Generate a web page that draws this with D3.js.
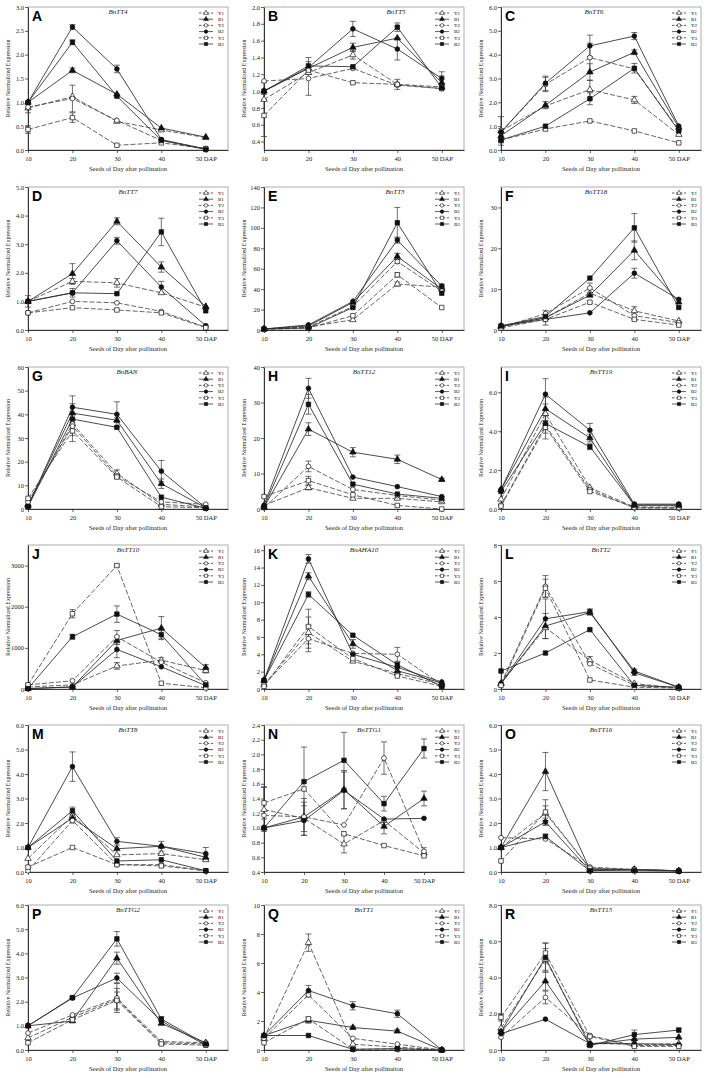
<!DOCTYPE html>
<html><head><meta charset="utf-8">
<script src="https://cdn.jsdelivr.net/npm/d3@7/dist/d3.min.js"></script>
<style>body{margin:0;background:#fff}</style></head>
<body>
<svg id="chart" width="708" height="1078"></svg>
<script>
// ---------- data ----------
const categories = [10, 20, 30, 40, 50];
const seriesNames = ["Y1", "B1", "Y2", "B2", "Y3", "B3"];
const panelLetters = ["A","B","C","D","E","F","G","H","I","J","K","L","M","N","O","P","Q","R"];
const geneNames = ["BnTT4","BnTT5","BnTT6","BnTT7","BnTT3","BnTT18","BnBAN","BnTT12","BnTT19",
                   "BnTT10","BnAHA10","BnTT2","BnTT8","BnTTG1","BnTT16","BnTTG2","BnTT1","BnTT15"];

// values: rows = Y1, B1, Y2, B2, Y3, B3 ; columns = 10..50 DAP
const valuesA = [[0.88,1.12,0.6,0.42,0.26],[1.0,1.67,1.17,0.46,0.27],[0.9,1.08,0.62,0.2,0.03],[1.0,2.58,1.7,0.22,0.02],[0.43,0.68,0.1,0.15,0.03],[1.0,2.26,1.13,0.2,0.01]];
const valuesB = [[0.9,1.22,1.43,1.08,1.05],[1.0,1.27,1.52,1.63,1.1],[1.12,1.15,1.27,1.07,1.03],[1.0,1.28,1.74,1.5,1.15],[0.71,1.25,1.1,1.08,1.03],[1.0,1.3,1.29,1.76,1.04]];
const valuesC = [[0.8,1.85,2.53,2.1,0.65],[0.6,1.88,3.27,4.1,0.95],[0.75,2.75,3.88,3.4,0.85],[0.75,2.8,4.37,4.78,1.0],[0.42,0.88,1.22,0.8,0.3],[0.42,1.0,2.15,3.43,0.8]];
const valuesD = [[1.0,1.7,1.65,1.3,0.8],[1.0,1.97,3.8,2.2,0.82],[0.6,1.0,0.95,0.65,0.1],[1.0,1.3,3.12,1.5,0.15],[0.6,0.78,0.7,0.6,0.08],[1.0,1.3,1.27,3.43,0.67]];
const valuesE = [[1,3,10,45,42],[1,4,27,72,40],[1,3,23,67,38],[1,5,28,88,43],[0.5,2,14,54,22],[1,2,22,105,36]];
const valuesF = [[1,3,9,4.7,2.2],[0.8,3,8.5,19.5,6.8],[0.6,4,10.3,3.5,1.8],[1,2.6,4.2,13.9,7.5],[0.5,2.6,6.8,2.6,1.2],[1,3.3,12.7,25,5.5]];
const valuesG = [[2,36,15,2,0.8],[1.5,40.5,37.5,10.7,0.5],[3,35,14,3,2],[1,43,40,16,0.5],[4.5,33,13.5,1,0.5],[1,38,34.5,5,0.3]];
const valuesH = [[1,6,3,3,2],[0.5,22.5,16,14,8.3],[0.3,12,5.5,3.8,2.5],[1,34,9,6.3,3.5],[3.5,8,4,1,0],[0.5,29.5,7,4.2,3]];
const valuesI = [[0.5,4.9,1.1,0.1,0.05],[1.0,5.15,3.65,0.2,0.2],[0.2,4.3,1.0,0.05,0.05],[1.0,5.9,4.05,0.25,0.25],[0.15,4.2,0.9,0.1,0.1],[0.9,4.4,3.2,0.2,0.2]];
const valuesJ = [[50,100,560,700,450],[10,50,1180,1480,520],[100,200,1270,650,150],[10,50,960,540,80],[100,1830,3000,140,30],[10,1270,1820,1320,100]];
const valuesK = [[0.5,6.5,3.2,1.8,0.5],[1.0,13,5.2,2.1,0.7],[0.5,5.8,4.1,4.0,0.5],[1.0,15,4.0,2.5,0.8],[0.3,7.2,3.5,1.5,0.3],[1.0,10.9,6.2,2.8,0.3]];
const valuesL = [[0.3,3.4,1.6,0.3,0.05],[0.3,3.5,4.25,1.0,0.1],[0.3,5.7,1.4,0.2,0.05],[0.3,3.9,4.3,0.9,0.1],[0.2,5.6,0.5,0.1,0.05],[1.0,2.0,3.3,0.2,0.1]];
const valuesM = [[0.55,2.3,0.7,0.75,0.5],[1.0,2.2,0.95,1.05,0.6],[0.05,2.1,0.3,0.3,0.05],[1.0,4.3,1.25,1.05,0.75],[0.2,1.0,0.3,0.25,0.05],[1.0,2.5,0.45,0.5,0.05]];
const valuesN = [[1.25,1.13,0.78,1.1,0.66],[1.0,1.15,1.52,1.02,1.4],[1.17,1.15,1.04,1.95,0.68],[1.0,1.1,1.51,1.12,1.13],[1.34,1.53,0.92,0.76,0.62],[1.0,1.63,1.92,1.33,2.08]];
const valuesO = [[1.0,2.4,0.15,0.1,0.05],[1.0,4.1,0.1,0.1,0.05],[1.4,1.35,0.2,0.1,0.05],[1.0,2.05,0.05,0.1,0.05],[0.45,2.45,0.15,0.1,0.05],[1.0,1.45,0.05,0.05,0.03]];
const valuesP = [[0.5,1.35,2.1,0.3,0.25],[1.0,1.2,3.8,1.1,0.3],[0.7,1.45,2.15,0.35,0.3],[1.0,2.15,2.98,1.2,0.2],[0.3,1.25,2.05,0.25,0.2],[1.0,2.17,4.6,1.28,0.25]];
const valuesQ = [[0.8,7.4,0.4,0.2,0],[1.0,2.05,1.55,1.3,0],[0.8,3.8,0.8,0.4,0],[1.0,4.1,3.05,2.5,0],[0.5,2.15,0.05,0.05,0],[1.0,1.0,0.05,0.1,0]];
const valuesR = [[1.2,5.0,0.4,0.3,0.35],[1.0,3.8,0.3,0.6,0.7],[0.7,2.9,0.8,0.25,0.25],[0.9,1.7,0.35,0.35,0.3],[1.8,5.35,0.75,0.2,0.2],[1.0,5.1,0.25,0.85,1.1]];

// error bars: [seriesIndex, pointIndex, +/- error]
const errA = [[3,1,0.05],[3,2,0.08],[2,1,0.28],[4,1,0.1],[4,0,0.08],[5,1,0.05],[1,1,0.05],[0,0,0.1]];
const errB = [[3,2,0.09],[2,1,0.2],[4,0,0.25],[5,3,0.05],[3,3,0.13],[1,2,0.05],[0,2,0.05],[5,1,0.1],[3,4,0.08],[1,4,0.08],[0,3,0.06],[1,0,0.1]];
const errC = [[3,2,0.45],[2,2,0.6],[1,2,0.35],[0,2,0.4],[3,3,0.15],[1,3,0.1],[5,3,0.2],[0,3,0.15],[3,1,0.3],[2,1,0.3],[1,1,0.15],[5,2,0.25],[0,0,0.6],[1,0,0.3]];
const errD = [[1,1,0.35],[1,2,0.12],[3,2,0.12],[5,3,0.48],[1,3,0.18],[3,3,0.2],[0,2,0.15],[0,1,0.1],[5,1,0.15],[0,0,0.2]];
const errE = [[5,3,15],[3,3,3],[1,3,3],[2,3,2],[4,3,2],[0,3,2],[3,4,2],[0,4,2]];
const errF = [[5,3,3.5],[1,3,2.3],[3,3,1.2],[0,3,1],[2,2,1.2],[0,1,1.8],[2,3,1]];
const errG = [[3,1,4.8],[1,1,4],[0,1,5],[4,1,4.5],[3,2,5.3],[1,2,1],[3,3,4.5],[1,3,2],[0,2,1.5],[2,2,1]];
const errH = [[3,1,2.8],[5,1,2.8],[1,1,1.8],[2,1,1.5],[4,1,1.2],[0,1,0.6],[1,2,1.3],[1,3,1.2],[1,4,0.4]];
const errI = [[3,1,0.8],[1,1,0.6],[0,1,0.5],[5,1,0.5],[4,1,0.6],[3,2,0.35],[1,2,0.2],[5,2,0.15]];
const errJ = [[1,3,280],[5,2,200],[2,2,150],[1,2,100],[3,2,200],[5,1,60],[4,1,100],[0,2,80],[4,2,30],[0,3,60],[5,3,100],[1,4,70],[0,4,60]];
const errK = [[3,1,0.5],[1,1,0.4],[5,1,0.3],[4,1,2],[0,1,1.8],[2,1,1.5],[2,3,0.8],[5,3,0.3],[1,2,0.5]];
const errL = [[2,1,0.6],[4,1,0.5],[3,1,1.1],[1,1,0.7],[3,2,0.15],[1,2,0.15],[0,2,0.2],[1,3,0.1],[3,3,0.15]];
const errM = [[3,1,0.6],[5,1,0.15],[1,1,0.2],[3,2,0.15],[1,3,0.2],[3,4,0.25],[1,4,0.1]];
const errN = [[5,1,0.47],[5,2,0.38],[1,2,0.26],[3,2,0.25],[0,2,0.12],[2,3,0.22],[5,3,0.1],[1,3,0.1],[5,4,0.13],[1,4,0.1],[0,0,0.3],[4,0,0.22],[2,1,0.2],[3,1,0.2],[1,1,0.25],[2,4,0.05]];
const errO = [[1,1,0.78],[4,1,0.5],[0,1,0.3],[3,1,0.15],[5,1,0.1]];
const errP = [[5,2,0.3],[1,2,0.25],[3,2,0.2],[0,2,0.45],[2,2,0.6],[4,2,0.35],[5,3,0.1],[5,1,0.05]];
const errQ = [[0,1,0.6],[3,1,0.35],[1,1,0.2],[2,1,0.15],[3,2,0.28],[3,3,0.25],[1,2,0.1],[1,3,0.1]];
const errR = [[4,1,0.55],[5,1,0.8],[2,1,0.35],[1,1,0.5],[0,1,0.6],[5,3,0.25],[5,4,0.1],[4,0,0.2]];

// y tick labels
const yTicksA = ["0.0","0.5","1.0","1.5","2.0","2.5","3.0"];
const yTicksB = ["0.4","0.6","0.8","1.0","1.2","1.4","1.6","1.8","2.0"];
const yTicksC = ["0.0","1.0","2.0","3.0","4.0","5.0","6.0"];
const yTicksD = ["0.0","1.0","2.0","3.0","4.0","5.0"];
const yTicksE = ["0","20","40","60","80","100","120","140"];
const yTicksF = ["0","10","20","30"];
const yTicksG = ["0","10","20","30","40","50","60"];
const yTicksH = ["0","10","20","30","40"];
const yTicksI = ["0.0","2.0","4.0","6.0"];
const yTicksJ = ["0","1000","2000","3000"];
const yTicksK = ["0","2","4","6","8","10","12","14","16"];
const yTicksL = ["0","2","4","6","8"];
const yTicksM = ["0.0","1.0","2.0","3.0","4.0","5.0","6.0"];
const yTicksN = ["0.4","0.6","0.8","1.0","1.2","1.4","1.6","1.8","2.0","2.2","2.4"];
const yTicksO = ["0.0","1.0","2.0","3.0","4.0","5.0","6.0"];
const yTicksP = ["0.0","1.0","2.0","3.0","4.0","5.0","6.0"];
const yTicksQ = ["0","2","4","6","8","10"];
const yTicksR = ["0.0","2.0","4.0","6.0","8.0"];

// y axis domains
const yDomains = [[0,3],[0.3,2.0],[0,6],[0,5],[0,140],[0,35],[0,60],[0,40],[0,7.3],
                  [0,3500],[0,16.6],[0,8],[0,6],[0.4,2.4],[0,6],[0,6],[0,10],[0,8]];
// x axis maximum (right edge of frame)
const xMaxes = [55,55,55,55,55,55,55,55,55,55,55,55,55,60,55,55,55,55];

const allValues = [valuesA,valuesB,valuesC,valuesD,valuesE,valuesF,valuesG,valuesH,valuesI,valuesJ,valuesK,valuesL,valuesM,valuesN,valuesO,valuesP,valuesQ,valuesR];
const allErrors = [errA,errB,errC,errD,errE,errF,errG,errH,errI,errJ,errK,errL,errM,errN,errO,errP,errQ,errR];
const allTicks = [yTicksA,yTicksB,yTicksC,yTicksD,yTicksE,yTicksF,yTicksG,yTicksH,yTicksI,yTicksJ,yTicksK,yTicksL,yTicksM,yTicksN,yTicksO,yTicksP,yTicksQ,yTicksR];

// ---------- layout ----------
const rowTops = [7, 187, 367, 545, 725, 905];
const rowHeights = [143, 143, 142, 144, 147, 145];
const colLefts = [28, 264, 501];
const plotW = 200;
const titleOffsets = [90,132,93,100,131,95,99,100,100,100,100,100,100,105,100,100,100,100];

const serif = "'Liberation Serif','Times New Roman',serif";
const sans = "'Liberation Sans',Arial,sans-serif";
const svg = d3.select("#chart");

const symbolTypes = [d3.symbolTriangle, d3.symbolTriangle, d3.symbolCircle, d3.symbolCircle, d3.symbolSquare, d3.symbolSquare];
const symbolSizes = [18, 18, 18, 18, 20, 20];
const isOpen = i => i % 2 === 0;

allValues.forEach((vals, p) => {
  const row = Math.floor(p / 3), col = p % 3;
  const H = rowHeights[row];
  const g = svg.append("g").attr("transform", `translate(${colLefts[col]},${rowTops[row]})`);
  const x = d3.scaleLinear().domain([10, xMaxes[p]]).range([0, plotW]);
  const y = d3.scaleLinear().domain(yDomains[p]).range([H, 0]);

  // frame
  g.append("rect").attr("x", 0).attr("y", 0).attr("width", plotW).attr("height", H)
    .attr("fill", "none").attr("stroke", "#9a9a9a").attr("stroke-width", 0.8);

  const tickLabels = allTicks[p];
  const yAxis = g.append("g").call(d3.axisLeft(y).tickValues(tickLabels.map(Number))
      .tickFormat((d, i) => tickLabels[i]).tickSize(3).tickSizeOuter(0));
  const xAxis = g.append("g").attr("transform", `translate(0,${H})`)
    .call(d3.axisBottom(x).tickValues(categories).tickFormat(d => d === 50 ? "50 DAP" : d)
      .tickSize(3).tickSizeOuter(0));
  [yAxis, xAxis].forEach(ax => {
    ax.select(".domain").attr("stroke", "#222").attr("stroke-width", 0.9);
    ax.selectAll(".tick line").attr("stroke", "#222").attr("stroke-width", 0.7);
    ax.selectAll(".tick text").attr("font-family", serif).attr("font-size", 6.5).attr("fill", "#222");
  });
  yAxis.selectAll(".tick text").attr("x", -4);
  xAxis.selectAll(".tick text").attr("y", 6);

  // lines
  const line = d3.line().x((d, i) => x(categories[i])).y(d => y(d));
  vals.forEach((s, si) => {
    g.append("path").datum(s).attr("d", line).attr("fill", "none")
      .attr("stroke", isOpen(si) ? "#4a4a4a" : "#2a2a2a").attr("stroke-width", 0.85)
      .attr("stroke-dasharray", isOpen(si) ? "5,2" : null);
  });

  // error bars
  allErrors[p].forEach(([si, pi, e]) => {
    const cx = x(categories[pi]);
    const v = vals[si][pi];
    const y0 = y(Math.max(v - e, yDomains[p][0])), y1 = y(v + e);
    const eg = g.append("g").attr("stroke", "#333").attr("stroke-width", 0.7);
    eg.append("line").attr("x1", cx).attr("x2", cx).attr("y1", y0).attr("y2", y1);
    eg.append("line").attr("x1", cx - 3).attr("x2", cx + 3).attr("y1", y1).attr("y2", y1);
    eg.append("line").attr("x1", cx - 3).attr("x2", cx + 3).attr("y1", y0).attr("y2", y0);
  });

  // markers
  vals.forEach((s, si) => {
    g.selectAll(null).data(s).enter().append("path")
      .attr("d", d3.symbol().type(symbolTypes[si]).size(symbolSizes[si]))
      .attr("transform", (d, i) => `translate(${x(categories[i])},${y(d)})`)
      .attr("fill", isOpen(si) ? "#fff" : "#111")
      .attr("stroke", "#111").attr("stroke-width", 0.7);
  });

  // legend
  const lg = g.append("g").attr("transform", `translate(${plotW - 29},6)`);
  seriesNames.forEach((name, si) => {
    const ly = si * 6.2;
    lg.append("line").attr("x1", 0).attr("x2", 14).attr("y1", ly).attr("y2", ly)
      .attr("stroke", "#333").attr("stroke-width", 0.8)
      .attr("stroke-dasharray", isOpen(si) ? "2.5,1.5" : null);
    lg.append("path").attr("d", d3.symbol().type(symbolTypes[si]).size(10))
      .attr("transform", `translate(7,${ly})`)
      .attr("fill", isOpen(si) ? "#fff" : "#111").attr("stroke", "#111").attr("stroke-width", 0.6);
    lg.append("text").attr("x", 19).attr("y", ly + 1.8).text(name)
      .attr("font-family", serif).attr("font-size", 5).attr("fill", "#000");
  });

  // panel letter
  g.append("text").attr("x", 4).attr("y", 14).text(panelLetters[p])
    .attr("font-family", sans).attr("font-weight", "bold").attr("font-size", 14).attr("fill", "#000");
  // gene title
  g.append("text").attr("x", titleOffsets[p]).attr("y", 7).attr("text-anchor", "middle")
    .text(geneNames[p]).attr("font-family", serif).attr("font-style", "italic")
    .attr("font-size", 7).attr("fill", "#222");
  // axis titles
  g.append("text").attr("transform", `translate(-18,${H / 2}) rotate(-90)`)
    .attr("text-anchor", "middle").text("Relative Normalized Expression")
    .attr("font-family", serif).attr("font-size", 6).attr("fill", "#222");
  g.append("text").attr("x", 100).attr("y", H + 21).attr("text-anchor", "middle")
    .text("Seeds of Day after pollination")
    .attr("font-family", serif).attr("font-size", 6.5).attr("fill", "#222");
});
</script>
</body></html>
